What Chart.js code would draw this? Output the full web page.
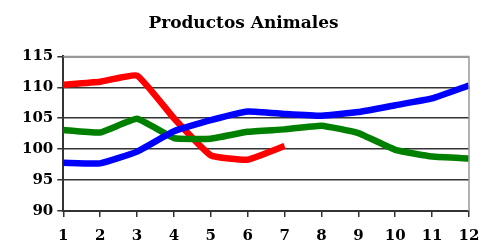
<!DOCTYPE html>
<html>
<head>
<meta charset="utf-8">
<script src="https://cdn.jsdelivr.net/npm/chart.js@4"></script>
<style>
  html, body { margin: 0; padding: 0; background: #fff; }
  #wrap { width: 483px; height: 244px; }
</style>
</head>
<body>
<div id="wrap"><canvas id="c" width="483" height="244"></canvas></div>
<script>
var meses = ["1","2","3","4","5","6","7","8","9","10","11","12"];
var rojo  = [110.4, 110.9, 111.9, 105.0, 99.0, 98.3, 100.5, null, null, null, null, null];
var verde = [103.1, 102.7, 104.9, 101.8, 101.7, 102.8, 103.2, 103.8, 102.6, 99.9, 98.8, 98.5];
var azul  = [97.8, 97.7, 99.6, 102.9, 104.7, 106.1, 105.7, 105.4, 106.0, 107.1, 108.2, 110.3];
var yMin = 90, yMax = 115, yPaso = 5;

var fuente = "'DejaVu Serif', 'Liberation Serif', serif";

function serie(datos, color) {
  return {
    data: datos,
    borderColor: color,
    backgroundColor: color,
    borderWidth: 6.5,
    pointRadius: 0,
    tension: 0.12,
    fill: false,
    spanGaps: false
  };
}

new Chart(document.getElementById("c"), {
  type: "line",
  data: {
    labels: meses,
    datasets: [serie(azul, "#0000ff"), serie(verde, "#008000"), serie(rojo, "#ff0000")]
  },
  options: {
    responsive: false,
    animation: false,
    layout: { padding: { left: 18, right: 14, top: 8, bottom: 0 } },
    plugins: {
      legend: { display: false },
      tooltip: { enabled: false },
      title: {
        display: true,
        text: "Productos Animales",
        color: "#000",
        font: { family: fuente, size: 17, weight: "bold" },
        padding: { top: 5, bottom: 23 }
      }
    },
    scales: {
      x: {
        offset: false,
        afterFit: function (ax) { ax.height = 33; ax.paddingRight = 0; },
        grid: { display: true, drawOnChartArea: false, drawTicks: true, tickLength: 6, color: "#333", lineWidth: 1.5 },
        border: { display: true, color: "#333", width: 2 },
        ticks: { color: "#000", font: { family: fuente, size: 15, weight: "bold" }, padding: 10, maxRotation: 0, autoSkip: false }
      },
      y: {
        min: yMin,
        max: yMax,
        grid: { color: "#333", lineWidth: 1.5, tickLength: 6 },
        border: { display: true, color: "#333", width: 2 },
        ticks: { stepSize: yPaso, color: "#000", font: { family: fuente, size: 15, weight: "bold" }, padding: 4 }
      }
    }
  },
  plugins: [{
    id: "marco",
    afterDraw: function (chart) {
      var a = chart.chartArea, ctx = chart.ctx;
      ctx.save();
      ctx.strokeStyle = "#999";
      ctx.lineWidth = 1.5;
      ctx.beginPath();
      ctx.moveTo(a.left, a.top);
      ctx.lineTo(a.right, a.top);
      ctx.lineTo(a.right, a.bottom);
      ctx.stroke();
      ctx.restore();
    }
  }]
});
</script>
</body>
</html>
